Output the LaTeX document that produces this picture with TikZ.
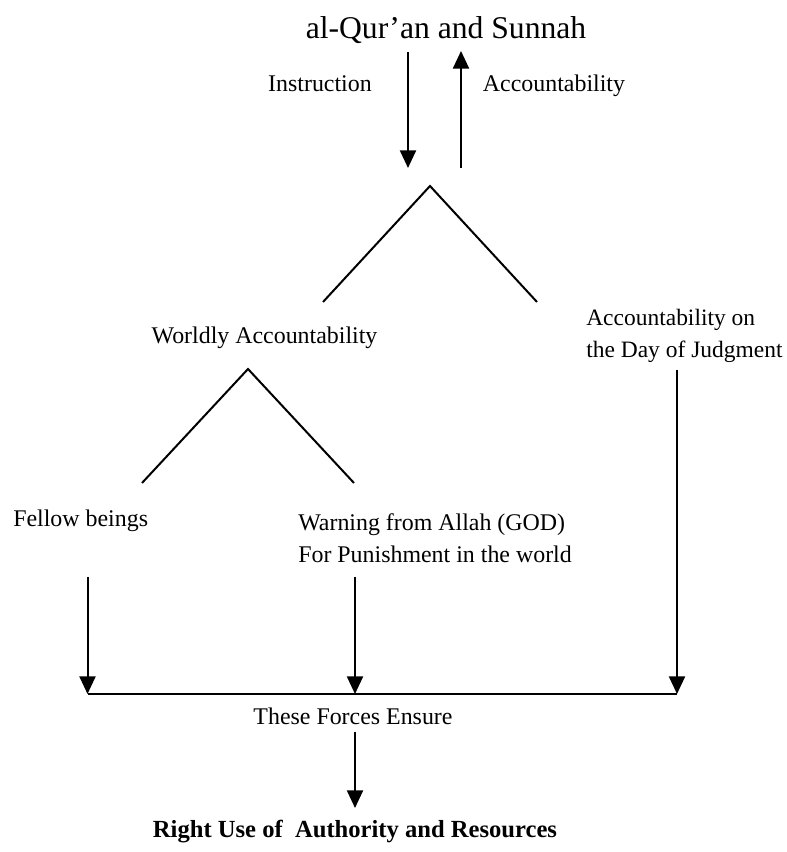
\documentclass[tikz,border=0pt]{standalone}
\usepackage{fontspec}
\setmainfont{Liberation Serif}
\usetikzlibrary{arrows.meta}

\tikzset{
  seg/.style={line width=0.05cm},
  arr/.style={line width=0.05cm,-{Triangle[length=0.44cm,width=0.40cm]}},
  lbl/.style={inner sep=0pt,font=\fontsize{17}{22.8}\selectfont}
}

\begin{document}
\begin{tikzpicture}
                \useasboundingbox (0,0) rectangle (19.650000,21.300000);
                {

                % Title
                \node [inner sep=0pt,anchor=base,font=\fontsize{22.5}{27}\selectfont] (quran) at (11.150000,20.325000) {al-Qur'an and Sunnah};%

                % Labels of the two top arrows
                \node [lbl,anchor=base] (instr) at (8.000000,19.000000) {Instruction};%
                \node [lbl,anchor=base] (acct) at (13.850000,19.000000) {Accountability};%

                % Points of the top arrows
                \coordinate (inA) at (10.200000,20.000000);%
                \coordinate (inB) at (10.200000,17.100000);%
                \coordinate (acA) at (11.525000,17.100000);%
                \coordinate (acB) at (11.525000,20.025000);%

                % Drawing arrow Instruction
                \draw [arr] (inA) -- (inB);%

                % Drawing arrow Accountability
                \draw [arr] (acA) -- (acB);%

                % Points of the upper fork
                \coordinate (top) at (10.750000,16.650000);%
                \coordinate (topL) at (8.075000,13.750000);%
                \coordinate (topR) at (13.425000,13.750000);%

                % Drawing segments top topL and top topR
                \draw [seg] (topL) -- (top) -- (topR);%

                % Worldly and Hereafter labels
                \node [lbl,anchor=base] (worldly) at (6.612500,12.700000) {Worldly Accountability};%
                \node [lbl,anchor=base west,align=left,font=\fontsize{16.7}{22.8}\selectfont] (judgment) at (14.650000,12.350000) {Accountability on\\the Day of Judgment};%

                % Points of the lower fork
                \coordinate (mid) at (6.200000,12.075000);%
                \coordinate (midL) at (3.550000,9.225000);%
                \coordinate (midR) at (8.850000,9.225000);%

                % Drawing segments mid midL and mid midR
                \draw [seg] (midL) -- (mid) -- (midR);%

                % Labels of the lower fork
                \node [lbl,anchor=base west] (fellow) at (0.325000,8.125000) {Fellow beings};%
                \node [lbl,anchor=base west,align=left] (warning) at (7.450000,7.225000) {Warning from Allah (GOD)\\For Punishment in the world};%

                % Points of the three down arrows
                \coordinate (feA) at (2.187500,6.875000);%
                \coordinate (feB) at (2.187500,3.950000);%
                \coordinate (waA) at (8.875000,6.875000);%
                \coordinate (waB) at (8.875000,3.950000);%
                \coordinate (juA) at (16.925000,12.050000);%
                \coordinate (juB) at (16.925000,3.950000);%

                % Drawing the three down arrows
                \draw [arr] (feA) -- (feB);%
                \draw [arr] (waA) -- (waB);%
                \draw [arr] (juA) -- (juB);%

                % Drawing segment feB juB
                \draw [seg] (feB) -- (juB);%

                % Bottom labels
                \node [lbl,anchor=base] (ensure) at (8.825000,3.175000) {These Forces Ensure};%
                \node [inner sep=0pt,anchor=base,font=\fontsize{17.5}{21}\selectfont\bfseries] (rightuse) at (8.875000,0.350000) {Right Use of~ Authority and Resources};%

                % Drawing the last arrow
                \coordinate (enA) at (8.875000,3.000000);%
                \coordinate (enB) at (8.875000,1.100000);%
                \draw [arr] (enA) -- (enB);%
                }
            \end{tikzpicture}
\end{document}
